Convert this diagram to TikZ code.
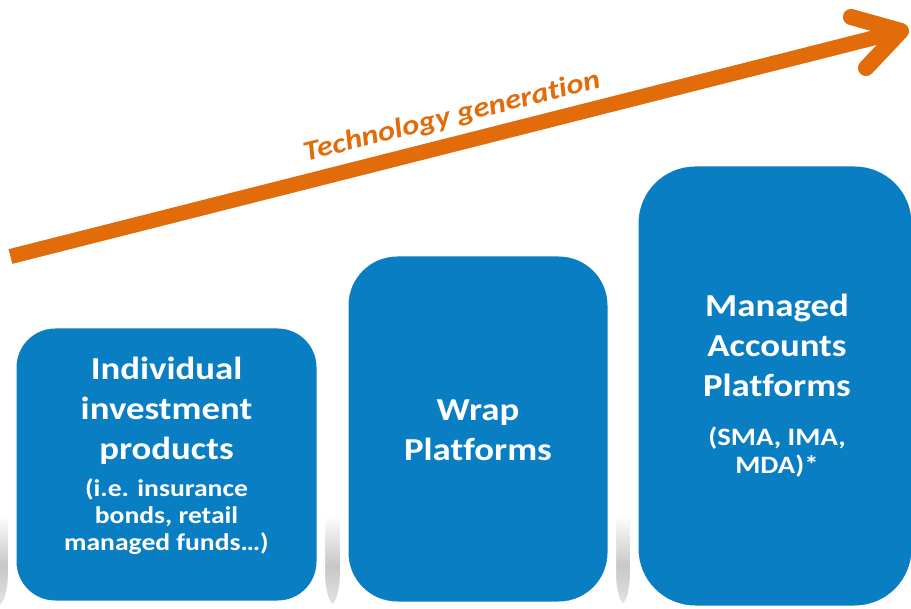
\documentclass[tikz,border=0pt]{standalone}
\usepackage{fontspec}
\setmainfont{Carlito}[Ligatures=NoCommon]
\newfontfamily\widefont{Carlito}[FakeStretch=1.15, Ligatures=NoCommon]
\definecolor{boxblue}{HTML}{0A7EC2}
\definecolor{techorange}{HTML}{E36C0A}
\tikzset{
  stage/.style={fill=boxblue, draw=white, line width=3, inner sep=0pt},
  stagefoot/.style={fill=white},
  bigtext/.style={text=white, align=center, inner sep=0pt, font=\widefont\bfseries\fontsize{32}{40}\selectfont},
  smalltext/.style={text=white, align=center, inner sep=0pt, font=\widefont\bfseries\fontsize{24}{27}\selectfont},
  trend/.style={techorange, line width=15},
  trendhead/.style={techorange, line width=16, line cap=round, line join=round},
}
\begin{document}
\begin{tikzpicture}[x=1pt, y=-1pt]
\useasboundingbox (0,0) rectangle (911,609);
\fill[white] (0,0) rectangle (911,609);

% floor shadow beneath the three stages
\shade[top color=white, bottom color=black!22] (0,515) rectangle (911,566);
\shade[top color=black!22, bottom color=black!10] (0,565) rectangle (911,609);

% white bases flaring out under each stage
\foreach \l/\r in {15/318, 347/609, 637/911} {
  \fill[stagefoot] (\l-7,480) -- (\l-7,572) .. controls (\l-7,598) and (\l-14,609) .. (\l-24,609)
        -- (\r+24,609) .. controls (\r+14,609) and (\r+7,598) .. (\r+7,572) -- (\r+7,480) -- cycle;
}

% the three stages
\node[stage, rounded corners=40, minimum width=303, minimum height=275] (box1) at (166.5,464.5) {};
\node[stage, rounded corners=50, minimum width=262, minimum height=348] (box2) at (478,429) {};
\node[stage, rounded corners=58, minimum width=276, minimum height=442] (box3) at (775,386) {};

\node[bigtext] (box1title) at (166.5,411) {Individual\\investment\\products};
\node[smalltext] (box1note) at (166.5,517) {(i.e. insurance\\bonds, retail\\managed funds\dots)};
\node[bigtext] (box2title) at (478,430) {Wrap\\Platforms};
\node[bigtext] (box3title) at (777,345) {Managed\\Accounts\\Platforms};
\node[smalltext, font=\widefont\bfseries\fontsize{25}{28}\selectfont] (box3note) at (777,452) {(SMA, IMA,\\MDA)*};

% technology trend arrow
\coordinate (tail) at (10.5,256.5);
\coordinate (tip) at (901,31);
\coordinate (armup) at (851,17);
\coordinate (armdown) at (866,68);
\begin{scope}[shift={(2,4)}, opacity=0.18]
  \draw[trend, black] (tail) -- (tip);
  \draw[trendhead, black] (armup) -- (tip) -- (armdown);
\end{scope}
\draw[trend] (tail) -- (tip);
\draw[trendhead] (armup) -- (tip) -- (armdown);

\node[rotate=14.0, text=techorange, font=\widefont\bfseries\itshape\fontsize{28}{28}\selectfont] (techlabel) at (452,117) {Technology generation};
\end{tikzpicture}
\end{document}
